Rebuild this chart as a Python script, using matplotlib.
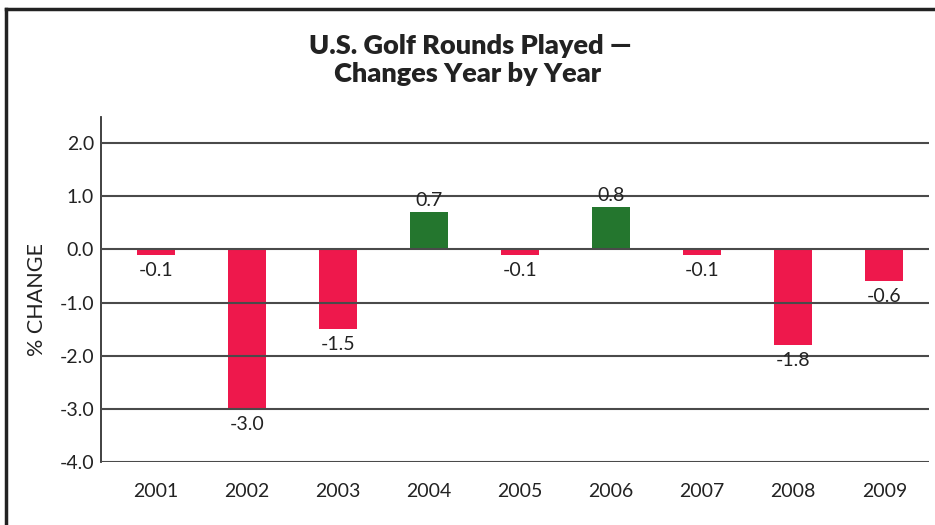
import matplotlib.pyplot as plt
from matplotlib.lines import Line2D

years = ['2001', '2002', '2003', '2004', '2005', '2006', '2007', '2008', '2009']
change = [-0.1, -3.0, -1.5, 0.7, -0.1, 0.8, -0.1, -1.8, -0.6]
yticks = [2.0, 1.0, 0.0, -1.0, -2.0, -3.0, -4.0]

red = '#EE184C'
green = '#24762E'
plt.rcParams['font.family'] = ['Lato', 'DejaVu Sans']

W, H = 935, 525
fig = plt.figure(figsize=(W / 100, H / 100), dpi=100)
ax = fig.add_axes([101 / W, 1 - 462 / H, (929 - 101) / W, (462 - 117) / H])

x = list(range(len(years)))
colors = [green if v > 0 else red for v in change]
ax.bar(x, change, width=0.42, color=colors, zorder=2)

for t in yticks:
    ax.axhline(t, color='#4a4a4a', lw=1.5, zorder=3)

for xi, v in zip(x, change):
    if v > 0:
        ax.text(xi, v + 0.05, '%.1f' % v, ha='center', va='bottom', fontsize=14, color='#222222', zorder=4)
    else:
        ax.text(xi, v - 0.13, '%.1f' % v, ha='center', va='top', fontsize=14, color='#222222', zorder=4)

ax.set_xlim(-0.6, 8.49)
ax.set_ylim(-4.0, 2.49)
ax.set_yticks(yticks)
ax.set_yticklabels(['%.1f' % t for t in yticks], fontsize=14, color='#222222')
ax.set_xticks(x)
ax.set_xticklabels(years, fontsize=14, color='#222222')
ax.tick_params(axis='x', length=0, pad=15)
ax.tick_params(axis='y', length=0, pad=5)
for s in ['top', 'right', 'bottom']:
    ax.spines[s].set_visible(False)
ax.spines['left'].set_color('#333333')
ax.spines['left'].set_linewidth(1.3)
ax.set_ylabel('% CHANGE', fontsize=15.5, color='#222222')
ax.yaxis.set_label_coords(-0.065, 0.47)

fig.text(0.503, 1 - 46 / H, 'U.S. Golf Rounds Played —', ha='center', va='center',
         fontsize=19.5, fontweight='heavy', color='#222222')
fig.text(0.500, 1 - 74 / H, 'Changes Year by Year', ha='center', va='center',
         fontsize=19.5, fontweight='heavy', color='#222222')

# outer frame (top and left only)
fig.add_artist(Line2D([6 / W, 1.0], [1 - 9 / H, 1 - 9 / H], transform=fig.transFigure, color='#222222', lw=2.5))
fig.add_artist(Line2D([6 / W, 6 / W], [1 - 9 / H, 0.0], transform=fig.transFigure, color='#222222', lw=2.5))

fig.savefig('out.png', dpi=100)
